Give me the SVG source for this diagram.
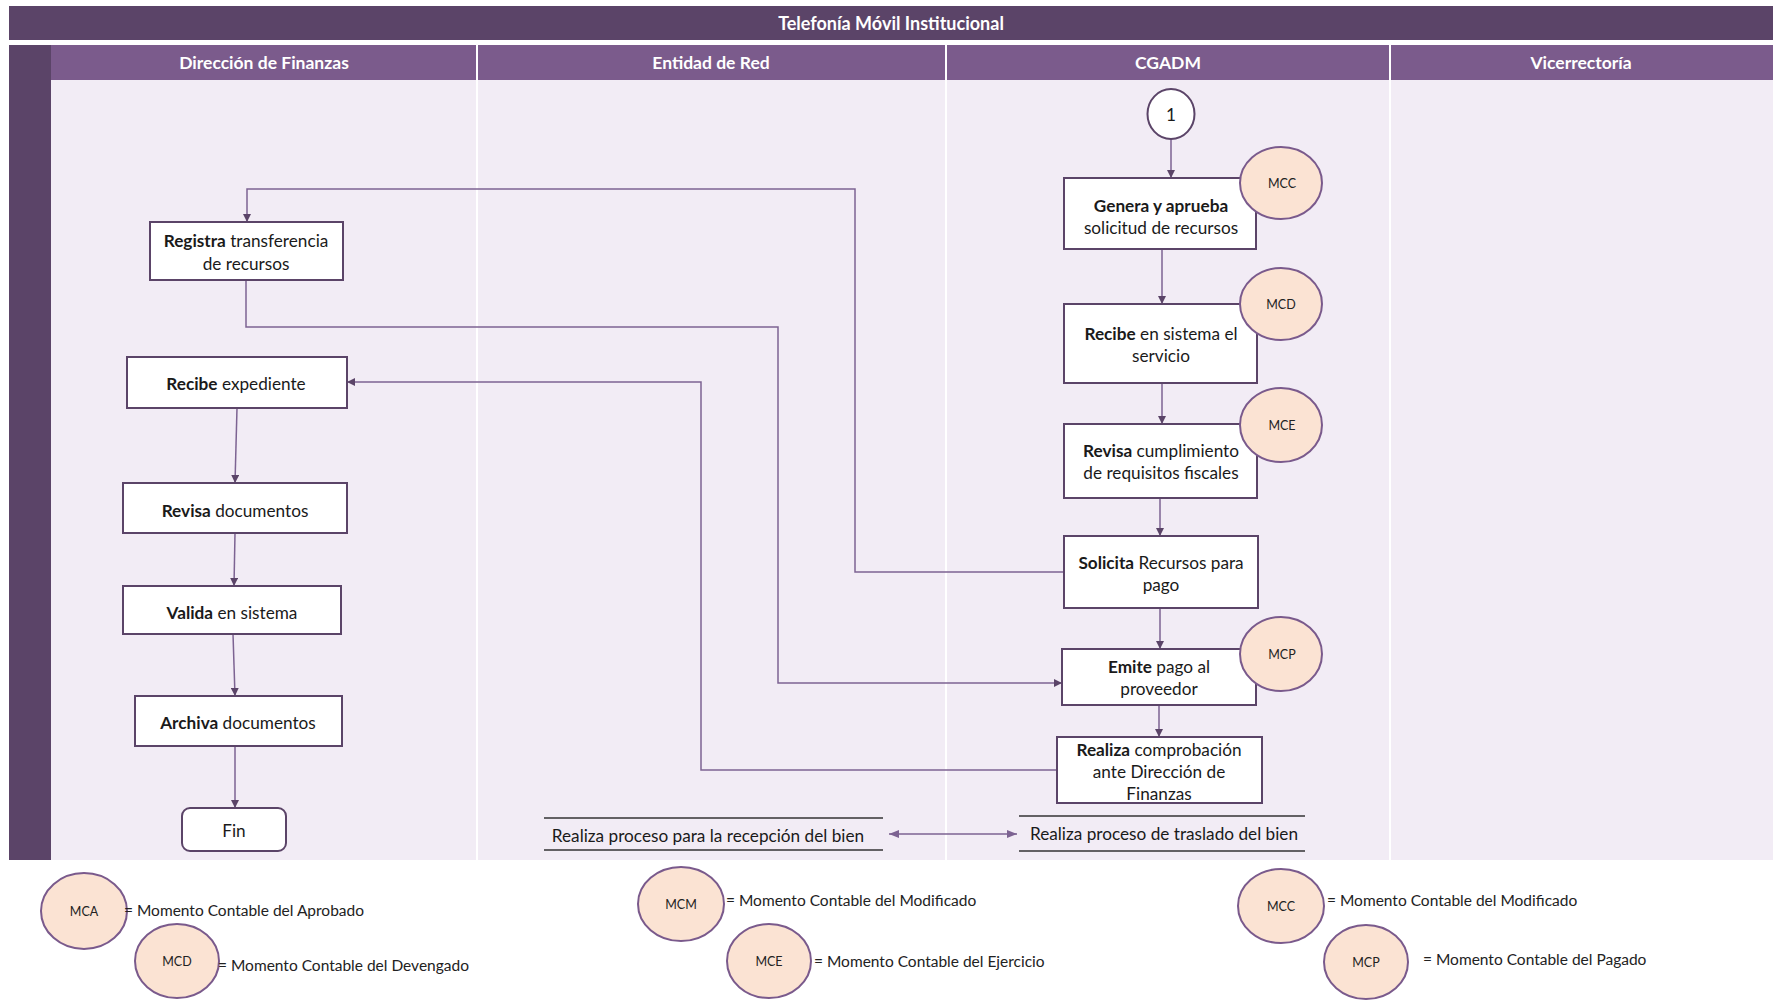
<svg xmlns="http://www.w3.org/2000/svg" width="1781" height="1000" viewBox="0 0 1781 1000">
<style>
  text { font-family: Lato, "Liberation Sans", sans-serif; fill: #1a1a1a; }
  .hdr { font-size: 17.5px; font-weight: bold; fill: #ffffff; text-anchor: middle; dominant-baseline: central; }
  .ttl { font-size: 18px; }
  .node { fill: #ffffff; stroke: #5b4468; stroke-width: 2; }
  .t { font-size: 17.2px; text-anchor: middle; dominant-baseline: central; }
  .b { font-weight: bold; }
  .mc { fill: #fbe3d3; stroke: #7a5a8c; stroke-width: 2; }
  .mct { font-size: 12.5px; text-anchor: middle; dominant-baseline: central; fill: #222; }
  .leg { font-size: 15.5px; dominant-baseline: central; fill: #222; }
  .conn { fill: none; stroke: #7d6392; stroke-width: 1.5; }
  .lane { stroke: #ffffff; stroke-width: 2; }
  .bar { stroke: #333; stroke-width: 1.3; }
</style>
<defs>
  <marker id="ah" viewBox="0 0 10 10" refX="10" refY="5" markerWidth="8" markerHeight="8" markerUnits="userSpaceOnUse" orient="auto-start-reverse">
    <path d="M0,0 L10,5 L0,10 z" fill="#5b4468"/>
  </marker>
  <marker id="ah2" viewBox="0 0 10 10" refX="10" refY="5" markerWidth="10" markerHeight="10" markerUnits="userSpaceOnUse" orient="auto-start-reverse">
    <path d="M0,1 L10,5 L0,9 z" fill="#7d6392"/>
  </marker>
</defs>

<rect x="0" y="0" width="1781" height="1000" fill="#ffffff"/>

<g id="pool">
  <rect x="9" y="6" width="1764" height="34" fill="#5b4468"/>
  <text class="hdr ttl" x="891" y="23">Telefonía Móvil Institucional</text>
  <rect x="9" y="45" width="42" height="815" fill="#5b4468"/>
  <rect x="51" y="45" width="1722" height="35" fill="#7b5b8c"/>
  <rect x="51" y="80" width="1722" height="780" fill="#f2ecf5"/>
  <line class="lane" x1="477" y1="45" x2="477" y2="860"/>
  <line class="lane" x1="946" y1="45" x2="946" y2="860"/>
  <line class="lane" x1="1390" y1="45" x2="1390" y2="860"/>
  <text class="hdr" x="264" y="62">Dirección de Finanzas</text>
  <text class="hdr" x="711" y="62">Entidad de Red</text>
  <text class="hdr" x="1168" y="62">CGADM</text>
  <text class="hdr" x="1581" y="62">Vicerrectoría</text>
</g>

<g id="connectors">
  <path class="conn" d="M1171,139 L1171,178" marker-end="url(#ah)"/>
  <path class="conn" d="M1162,249 L1162,304" marker-end="url(#ah)"/>
  <path class="conn" d="M1162,383 L1162,424" marker-end="url(#ah)"/>
  <path class="conn" d="M1160,498 L1160,536" marker-end="url(#ah)"/>
  <path class="conn" d="M1160,608 L1160,649" marker-end="url(#ah)"/>
  <path class="conn" d="M1159,705 L1159,737" marker-end="url(#ah)"/>
  <path class="conn" d="M1064,572 L855,572 L855,189 L247,189 L247,222" marker-end="url(#ah)"/>
  <path class="conn" d="M246,280 L246,327 L778,327 L778,683 L1062,683" marker-end="url(#ah)"/>
  <path class="conn" d="M1057,770 L701,770 L701,382 L347,382" marker-end="url(#ah)"/>
  <path class="conn" d="M237,408 L235,483" marker-end="url(#ah)"/>
  <path class="conn" d="M235,533 L234,586" marker-end="url(#ah)"/>
  <path class="conn" d="M233,634 L235,696" marker-end="url(#ah)"/>
  <path class="conn" d="M235,746 L235,808" marker-end="url(#ah)"/>
  <path class="conn" d="M889,834 L1017,834" marker-start="url(#ah2)" marker-end="url(#ah2)"/>
</g>

<g id="start1">
  <ellipse cx="1171" cy="114" rx="23.5" ry="25" fill="#ffffff" stroke="#5b4468" stroke-width="2"/>
  <text class="t" x="1171" y="114">1</text>
</g>

<g id="genera">
  <rect class="node" x="1064" y="178" width="192" height="71"/>
  <text class="t b" x="1161" y="205">Genera y aprueba</text>
  <text class="t" x="1161" y="227">solicitud de recursos</text>
</g>
<g id="mcc1">
  <ellipse class="mc" cx="1281" cy="183" rx="41" ry="36"/>
  <text class="mct" x="1282" y="183">MCC</text>
</g>

<g id="recibe-sistema">
  <rect class="node" x="1064" y="304" width="193" height="79"/>
  <text class="t" x="1161" y="333"><tspan class="b">Recibe</tspan> en sistema el</text>
  <text class="t" x="1161" y="355">servicio</text>
</g>
<g id="mcd1">
  <ellipse class="mc" cx="1281" cy="304" rx="41" ry="36"/>
  <text class="mct" x="1281" y="304">MCD</text>
</g>

<g id="revisa-cumpl">
  <rect class="node" x="1064" y="424" width="193" height="74"/>
  <text class="t" x="1161" y="450"><tspan class="b">Revisa</tspan> cumplimiento</text>
  <text class="t" x="1161" y="472">de requisitos fiscales</text>
</g>
<g id="mce1">
  <ellipse class="mc" cx="1281" cy="425" rx="41" ry="37"/>
  <text class="mct" x="1282" y="425">MCE</text>
</g>

<g id="solicita">
  <rect class="node" x="1064" y="536" width="194" height="72"/>
  <text class="t" x="1161" y="562"><tspan class="b">Solicita</tspan> Recursos para</text>
  <text class="t" x="1161" y="584">pago</text>
</g>

<g id="emite">
  <rect class="node" x="1062" y="649" width="194" height="56"/>
  <text class="t" x="1159" y="666"><tspan class="b">Emite</tspan> pago al</text>
  <text class="t" x="1159" y="688">proveedor</text>
</g>
<g id="mcp1">
  <ellipse class="mc" cx="1281" cy="654" rx="41" ry="37"/>
  <text class="mct" x="1282" y="654">MCP</text>
</g>

<g id="realiza-comprob">
  <rect class="node" x="1057" y="737" width="205" height="66"/>
  <text class="t" x="1159" y="749"><tspan class="b">Realiza</tspan> comprobación</text>
  <text class="t" x="1159" y="771">ante Dirección de</text>
  <text class="t" x="1159" y="793">Finanzas</text>
</g>

<g id="registra">
  <rect class="node" x="150" y="222" width="193" height="58"/>
  <text class="t" x="246" y="240"><tspan class="b">Registra</tspan> transferencia</text>
  <text class="t" x="246" y="263">de recursos</text>
</g>

<g id="recibe-exp">
  <rect class="node" x="127" y="357" width="220" height="51"/>
  <text class="t" x="236" y="383"><tspan class="b">Recibe</tspan> expediente</text>
</g>

<g id="revisa-doc">
  <rect class="node" x="123" y="483" width="224" height="50"/>
  <text class="t" x="235" y="510"><tspan class="b">Revisa</tspan> documentos</text>
</g>

<g id="valida">
  <rect class="node" x="123" y="586" width="218" height="48"/>
  <text class="t" x="232" y="612"><tspan class="b">Valida</tspan> en sistema</text>
</g>

<g id="archiva">
  <rect class="node" x="135" y="696" width="207" height="50"/>
  <text class="t" x="238" y="722"><tspan class="b">Archiva</tspan> documentos</text>
</g>

<g id="fin">
  <rect class="node" x="182" y="808" width="104" height="43" rx="8"/>
  <text class="t" x="234" y="830">Fin</text>
</g>

<g id="recepcion">
  <line class="bar" x1="544" y1="818" x2="883" y2="818"/>
  <line class="bar" x1="544" y1="850" x2="883" y2="850"/>
  <text class="t" x="708" y="835">Realiza proceso para la recepción del bien</text>
</g>

<g id="traslado">
  <line class="bar" x1="1019" y1="816" x2="1305" y2="816"/>
  <line class="bar" x1="1019" y1="851" x2="1305" y2="851"/>
  <text class="t" x="1164" y="833">Realiza proceso de traslado del bien</text>
</g>

<g id="legend">
  <ellipse class="mc" cx="84" cy="911" rx="43" ry="38"/>
  <text class="mct" x="84" y="911">MCA</text>
  <text class="leg" x="124" y="910">= Momento Contable del Aprobado</text>

  <ellipse class="mc" cx="177" cy="961" rx="42" ry="37"/>
  <text class="mct" x="177" y="961">MCD</text>
  <text class="leg" x="218" y="965">= Momento Contable del Devengado</text>

  <ellipse class="mc" cx="681" cy="904" rx="43" ry="37"/>
  <text class="mct" x="681" y="904">MCM</text>
  <text class="leg" x="726" y="900">= Momento Contable del Modificado</text>

  <ellipse class="mc" cx="769" cy="961" rx="42" ry="37"/>
  <text class="mct" x="769" y="961">MCE</text>
  <text class="leg" x="814" y="961">= Momento Contable del Ejercicio</text>

  <ellipse class="mc" cx="1281" cy="906" rx="43" ry="37"/>
  <text class="mct" x="1281" y="906">MCC</text>
  <text class="leg" x="1327" y="900">= Momento Contable del Modificado</text>

  <ellipse class="mc" cx="1366" cy="962" rx="42" ry="37"/>
  <text class="mct" x="1366" y="962">MCP</text>
  <text class="leg" x="1423" y="959">= Momento Contable del Pagado</text>
</g>
</svg>
